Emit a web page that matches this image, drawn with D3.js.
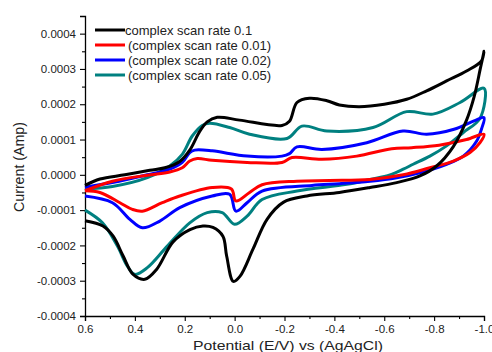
<!DOCTYPE html>
<html>
<head>
<meta charset="utf-8">
<script src="https://cdn.jsdelivr.net/npm/d3@7"></script>
<style>
  html, body { margin: 0; padding: 0; background: #fff; }
  svg { display: block; font-family: "Liberation Sans", Arial, sans-serif; }
</style>
</head>
<body>
<div id="chart"></div>
<script>
// Cyclic voltammograms, complex at different scan rates.
// Each curve: forward branch 0.6 -> -1.0 V, then return branch -1.0 -> 0.6 V.

// scan rate 0.1 (black)
var blackE = [0.6, 0.54, 0.44, 0.34, 0.28, 0.22, 0.18, 0.14, 0.11, 0.07, -0.02, -0.19, -0.22, -0.25, -0.30, -0.37, -0.42, -0.50, -0.60, -0.69, -0.77, -0.85, -0.93, -0.99, -1.0,
  -0.985, -0.96, -0.93, -0.877, -0.81, -0.743, -0.65, -0.543, -0.42, -0.29, -0.195, -0.13, -0.074, -0.022, 0.005, 0.032, 0.047, 0.087, 0.127, 0.179, 0.247, 0.313, 0.36, 0.407, 0.447, 0.487, 0.528, 0.6];
var blackI = [-0.00003, -0.000012, 0.0, 0.000013, 0.00002, 0.000038, 0.00007, 0.000123, 0.00015, 0.000163, 0.000155, 0.00014, 0.000152, 0.000205, 0.000217, 0.00021, 0.000198, 0.000193, 0.0002, 0.000214, 0.000238, 0.000266, 0.000294, 0.000323, 0.00035,
  0.0003, 0.00022, 0.000155, 0.00008, 0.000025, -0.000003, -0.000022, -0.000036, -0.00005, -0.00006, -0.000078, -0.000126, -0.00021, -0.000287, -0.000302, -0.00023, -0.000174, -0.000149, -0.000145, -0.000155, -0.00019, -0.000268, -0.000296, -0.000282, -0.00023, -0.000174, -0.000145, -0.00013];

// scan rate 0.01 (red)
var redE = [0.6, 0.49, 0.35, 0.26, 0.21, 0.18, 0.15, 0.09, -0.05, -0.19, -0.23, -0.35, -0.49, -0.63, -0.71, -0.82, -0.93, -1.0,
  -0.984, -0.944, -0.877, -0.783, -0.676, -0.543, -0.38, -0.25, -0.11, -0.06, -0.005, 0.013, 0.09, 0.22, 0.29, 0.37, 0.41, 0.46, 0.54, 0.6];
var redI = [-0.000045, -0.000018, -0.000001, 0.000008, 0.00002, 0.000039, 0.000046, 0.000041, 0.000035, 0.000035, 0.000049, 0.000044, 0.000053, 0.000074, 0.000077, 0.000084, 0.0001, 0.000115,
  0.000091, 0.000063, 0.000039, 0.00002, 0.0, -0.000013, -0.000016, -0.000018, -0.000028, -0.00005, -0.000074, -0.00004, -0.000036, -0.00006, -0.000079, -0.000103, -0.000098, -0.000079, -0.00005, -0.000045];

// scan rate 0.02 (blue)
var blueE = [0.6, 0.49, 0.35, 0.26, 0.21, 0.18, 0.16, 0.09, -0.05, -0.19, -0.22, -0.25, -0.35, -0.53, -0.675, -0.77, -0.88, -0.96, -1.0,
  -0.99, -0.97, -0.917, -0.85, -0.743, -0.65, -0.543, -0.42, -0.31, -0.11, -0.05, -0.005, 0.02, 0.09, 0.22, 0.30, 0.37, 0.42, 0.49, 0.6];
var blueI = [-0.000035, -0.000022, 0.0, 0.000016, 0.000035, 0.000063, 0.00007, 0.000068, 0.000053, 0.000053, 0.00006, 0.000079, 0.000072, 0.000091, 0.000124, 0.000115, 0.000129, 0.000153, 0.000162,
  0.00013, 0.000095, 0.000053, 0.00003, 0.000006, -0.000008, -0.000018, -0.000025, -0.00003, -0.000046, -0.000079, -0.000103, -0.000055, -0.00006, -0.000093, -0.000131, -0.00015, -0.000126, -0.000079, -0.00006];

// scan rate 0.05 (teal)
var tealE = [0.6, 0.49, 0.35, 0.26, 0.21, 0.17, 0.13, 0.10, 0.02, -0.06, -0.21, -0.27, -0.37, -0.555, -0.69, -0.795, -0.904, -1.0,
  -0.984, -0.917, -0.85, -0.783, -0.716, -0.676, -0.623, -0.543, -0.45, -0.25, -0.11, -0.05, 0.0, 0.05, 0.11, 0.18, 0.27, 0.35, 0.40, 0.43, 0.47, 0.53, 0.6];
var tealI = [-0.00004, -0.000033, -0.000008, 0.000025, 0.000058, 0.00011, 0.00014, 0.000146, 0.000134, 0.000115, 0.000103, 0.000138, 0.000124, 0.000134, 0.000179, 0.000172, 0.000205, 0.000245,
  0.00016, 0.00012, 0.000082, 0.000053, 0.00003, 0.000016, 0.0, -0.000013, -0.000027, -0.000046, -0.00007, -0.000117, -0.00014, -0.000107, -0.000107, -0.000136, -0.000202, -0.000263, -0.000282, -0.000259, -0.000202, -0.000136, -0.0001];

var legendLabels = ['complex scan rate 0.1', '(complex scan rate 0.01)', '(complex scan rate 0.02)', '(complex scan rate 0.05)'];
var colors = ['#000000', '#ff0000', '#0000ff', '#008080'];

var xTicks = [0.6, 0.4, 0.2, 0.0, -0.2, -0.4, -0.6, -0.8, -1.0];
var xMinor = [0.5, 0.3, 0.1, -0.1, -0.3, -0.5, -0.7, -0.9];
var yTicks = [-0.0004, -0.0003, -0.0002, -0.0001, 0.0, 0.0001, 0.0002, 0.0003, 0.0004];
var yMinor = [-0.00035, -0.00025, -0.00015, -0.00005, 0.00005, 0.00015, 0.00025, 0.00035];

(function () {
  'use strict';

  var W = 492, H = 352;
  var left = 85, right = 484, top = 16, bottom = 316;

  var svg = d3.select('#chart').append('svg')
    .attr('width', W)
    .attr('height', H);

  var x = d3.scaleLinear().domain([0.6, -1.0]).range([left, right]);
  var y = d3.scaleLinear().domain([-0.0004, 0.00045]).range([bottom, top]);

  // --- AXES ---
  svg.append('g')
    .attr('transform', 'translate(0,' + bottom + ')')
    .call(d3.axisBottom(x).tickValues(xTicks).tickSize(5).tickPadding(4)
      .tickFormat(function (d) { return d.toFixed(1); }));
  svg.append('g')
    .attr('transform', 'translate(0,' + bottom + ')')
    .call(d3.axisBottom(x).tickValues(xMinor).tickSize(3).tickFormat(''))
    .select('.domain').remove();

  svg.append('g')
    .attr('transform', 'translate(' + left + ',0)')
    .call(d3.axisLeft(y).tickValues(yTicks).tickSize(5).tickPadding(4)
      .tickFormat(function (d) { return d.toFixed(4); }));
  svg.append('g')
    .attr('transform', 'translate(' + left + ',0)')
    .call(d3.axisLeft(y).tickValues(yMinor).tickSize(3).tickFormat(''))
    .select('.domain').remove();

  svg.selectAll('.domain').attr('stroke', '#000').attr('stroke-width', 1.3);
  svg.selectAll('.tick line').attr('stroke', '#000').attr('stroke-width', 1.1);
  svg.selectAll('.tick text')
    .attr('fill', '#222')
    .attr('font-family', '"Liberation Sans", Arial, sans-serif')
    .attr('font-size', '11.5px');

  // axis titles (the original is a bit wider than its glyph height suggests)
  svg.append('text')
    .attr('x', 288)
    .attr('y', 350)
    .attr('text-anchor', 'middle')
    .attr('font-size', '13.5px')
    .attr('textLength', 190)
    .attr('lengthAdjust', 'spacingAndGlyphs')
    .attr('fill', '#222')
    .text('Potential (E/V) vs (AgAgCl)');

  svg.append('text')
    .attr('transform', 'translate(24,167) rotate(-90)')
    .attr('text-anchor', 'middle')
    .attr('font-size', '14px')
    .attr('textLength', 90)
    .attr('lengthAdjust', 'spacingAndGlyphs')
    .attr('fill', '#222')
    .text('Current (Amp)');

  // --- CURVES ---
  var series = [
    { e: blackE, i: blackI },
    { e: redE, i: redI },
    { e: blueE, i: blueI },
    { e: tealE, i: tealI }
  ];

  var line = d3.line()
    .x(function (d) { return x(d[0]); })
    .y(function (d) { return y(d[1]); })
    .curve(d3.curveCatmullRom.alpha(0.5));

  // teal first so black sits on top like the original
  [3, 2, 1, 0].forEach(function (k) {
    var s = series[k];
    var pts = s.e.map(function (v, j) { return [v, s.i[j]]; });
    svg.append('path')
      .datum(pts)
      .attr('fill', 'none')
      .attr('stroke', colors[k])
      .attr('stroke-width', 3)
      .attr('stroke-linejoin', 'round')
      .attr('d', line);
  });

  // --- LEGEND ---
  var legend = svg.append('g').attr('transform', 'translate(95,30)');
  legendLabels.forEach(function (label, k) {
    var row = legend.append('g').attr('transform', 'translate(0,' + (k * 15) + ')');
    row.append('line')
      .attr('x1', 0).attr('x2', 30)
      .attr('y1', 0).attr('y2', 0)
      .attr('stroke', colors[k])
      .attr('stroke-width', 3);
    row.append('text')
      .attr('x', k === 0 ? 30 : 33)
      .attr('y', 4.5)
      .attr('font-size', '13px')
      .attr('fill', '#222')
      .text(label);
  });
})();
</script>
</body>
</html>
